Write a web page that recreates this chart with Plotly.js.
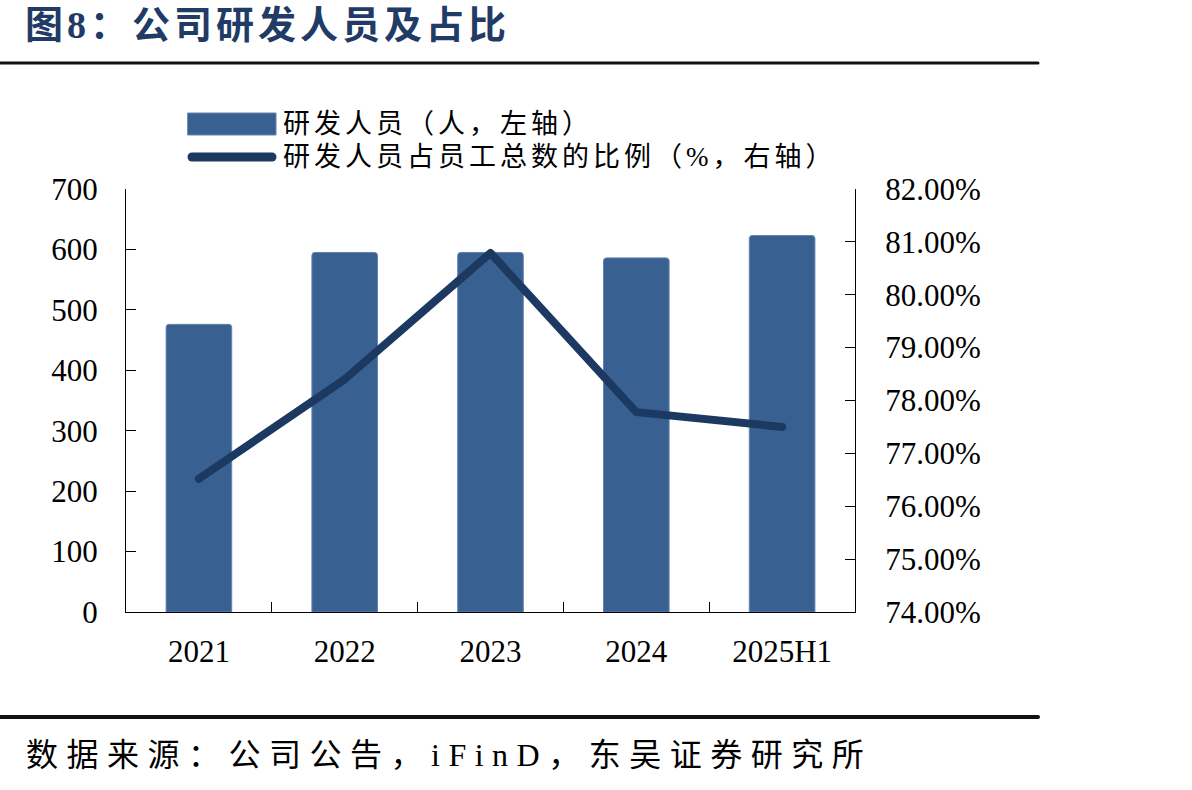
<!DOCTYPE html>
<html>
<head>
<meta charset="utf-8">
<script src="https://cdn.plot.ly/plotly-3.0.1.min.js"></script>
<style>
  html, body { margin: 0; padding: 0; background: #ffffff; }
  #chart { width: 1192px; height: 790px; }
  .scatterlayer .js-line { stroke-linecap: round; stroke-linejoin: round; }
  .shapelayer path { stroke-linecap: round; }
  .gtitle { letter-spacing: 4px; }
  g.annotation[data-index="0"] text,
  g.annotation[data-index="1"] text { letter-spacing: 4px; }
  g.annotation[data-index="2"] text { letter-spacing: 8.5px; }
</style>
</head>
<body>
<div id="chart"></div>
<script>
// Categories and series
const years = ['2021', '2022', '2023', '2024', '2025H1'];
const rdStaff = [476, 595, 595, 586, 623];              // 研发人员（人）
const rdShare = [76.52, 78.40, 80.79, 77.78, 77.50];    // 研发人员占员工总数的比例（%）
const staffName = '研发人员（人，左轴）';
const shareName = '研发人员占员工总数的比例（%，右轴）';
const leftTicks = [0, 100, 200, 300, 400, 500, 600, 700];
const rightTicks = [74, 75, 76, 77, 78, 79, 80, 81, 82];
const rightTickText = rightTicks.map(v => v.toFixed(2) + '%');

const W = 1192, H = 790;
const M = { l: 126, r: W - 855, t: 189, b: H - 612 };
const PW = W - M.l - M.r, PH = H - M.t - M.b;
// pixel -> paper helpers for page decorations
const px = x => (x - M.l) / PW;
const py = y => (H - M.b - y) / PH;

const serif = 'Liberation Serif, "Noto Sans CJK SC", serif';
const barColor = '#386192';
const lineColor = '#1b3961';

const traces = [
  {
    type: 'bar', x: years, y: rdStaff, name: staffName,
    marker: { color: barColor, line: { color: '#6384ae', width: 1 } },
    width: 0.45, yaxis: 'y', hoverinfo: 'skip'
  },
  {
    type: 'scatter', mode: 'lines', x: years, y: rdShare, name: shareName,
    line: { color: lineColor, width: 8 }, yaxis: 'y2', hoverinfo: 'skip'
  }
];

const layout = {
  width: W, height: H,
  margin: M,
  paper_bgcolor: '#ffffff', plot_bgcolor: '#ffffff',
  showlegend: false,
  barcornerradius: 3,
  font: { family: serif, color: '#000000' },
  title: {
    text: '<b>图8：公司研发人员及占比</b>',
    font: { family: serif, size: 38, color: '#1f3b66' },
    x: 25 / W, xref: 'container', xanchor: 'left',
    y: 1 - 25 / H, yref: 'container', yanchor: 'middle'
  },
  xaxis: {
    type: 'category', range: [-0.5, years.length - 0.5],
    showline: true, linecolor: '#000000', linewidth: 1,
    ticks: 'inside', tickson: 'boundaries', ticklen: 10, tickcolor: '#000000',
    showgrid: false, zeroline: false,
    tickfont: { family: serif, size: 31, color: '#000000' },
    ticklabelstandoff: 12
  },
  yaxis: {
    range: [0, 700], tickvals: leftTicks,
    showline: true, linecolor: '#000000', linewidth: 1,
    ticks: 'inside', ticklen: 10, tickcolor: '#000000',
    showgrid: false, zeroline: false,
    tickfont: { family: serif, size: 31, color: '#000000' },
    ticklabelstandoff: 21
  },
  yaxis2: {
    overlaying: 'y', side: 'right',
    range: [74, 82], tickvals: rightTicks, ticktext: rightTickText,
    showline: true, linecolor: '#000000', linewidth: 1,
    ticks: 'inside', ticklen: 10, tickcolor: '#000000',
    showgrid: false, zeroline: false,
    tickfont: { family: serif, size: 31, color: '#000000' },
    ticklabelstandoff: 23
  },
  shapes: [
    // rule under the heading
    { type: 'line', xref: 'paper', yref: 'paper', x0: px(0), x1: px(1038), y0: py(63), y1: py(63),
      line: { color: '#111111', width: 3 } },
    // rule above the source note
    { type: 'line', xref: 'paper', yref: 'paper', x0: px(0), x1: px(1038), y0: py(717), y1: py(717),
      line: { color: '#111111', width: 4 } },
    // legend swatches
    { type: 'rect', xref: 'paper', yref: 'paper', x0: px(188), x1: px(276), y0: py(135), y1: py(113),
      fillcolor: barColor, line: { color: '#6384ae', width: 1 } },
    { type: 'line', xref: 'paper', yref: 'paper', x0: px(192), x1: px(272), y0: py(157), y1: py(157),
      line: { color: lineColor, width: 9 } }
  ],
  annotations: [
    { text: staffName, xref: 'paper', yref: 'paper', x: px(281), y: py(124),
      xanchor: 'left', yanchor: 'middle', align: 'left', showarrow: false,
      font: { family: serif, size: 27, color: '#000000' } },
    { text: shareName, xref: 'paper', yref: 'paper', x: px(281), y: py(157),
      xanchor: 'left', yanchor: 'middle', align: 'left', showarrow: false,
      font: { family: serif, size: 27, color: '#000000' } },
    { text: '数据来源：公司公告，iFinD，东吴证券研究所', xref: 'paper', yref: 'paper',
      x: px(24), y: py(755), xanchor: 'left', yanchor: 'middle', align: 'left', showarrow: false,
      font: { family: serif, size: 32, color: '#000000' } }
  ]
};

Plotly.newPlot('chart', traces, layout, { staticPlot: true, displayModeBar: false });
</script>
</body>
</html>
